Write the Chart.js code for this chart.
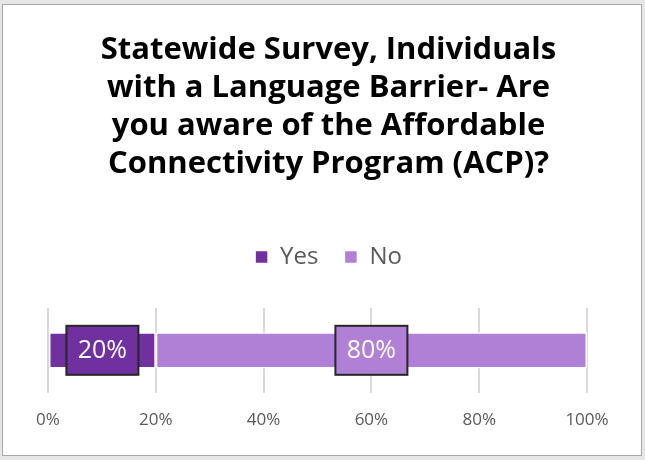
<!DOCTYPE html>
<html>
<head>
<meta charset="utf-8">
<script src="https://cdn.jsdelivr.net/npm/chart.js@4"></script>
<style>
  html, body { margin: 0; padding: 0; background: #e6e6e6; }
  #frame {
    position: absolute; left: 2px; top: 4px; width: 638px; height: 450px;
    background: #fff; border: 1px solid #a6a6a6;
  }
  #wrap { position: absolute; left: 0; top: 0; width: 638px; height: 450px; }
</style>
</head>
<body>
<div id="frame"><div id="wrap"><canvas id="chart"></canvas></div></div>
<script>
const categories = ["All"];
const seriesNames = ["Yes", "No"];
const yesValues = [20];
const noValues = [80];
const tickLabels = ["0%", "20%", "40%", "60%", "80%", "100%"];
const titleLines = [
  "Statewide Survey, Individuals",
  "with a Language Barrier- Are",
  "you aware of the Affordable",
  "Connectivity Program (ACP)?"
];

// draws boxed percentage labels in the middle of each bar segment
const boxLabels = {
  id: "boxLabels",
  afterDatasetsDraw(chart) {
    const ctx = chart.ctx;
    ctx.save();
    ctx.font = "25px 'Open Sans', sans-serif";
    ctx.textAlign = "center";
    ctx.textBaseline = "middle";
    chart.data.datasets.forEach((ds, di) => {
      const meta = chart.getDatasetMeta(di);
      meta.data.forEach((bar, i) => {
        const cx = (bar.x + bar.base) / 2;
        const cy = bar.y;
        const w = 72, h = 49;
        ctx.fillStyle = ds.labelFill;
        ctx.fillRect(cx - w / 2, cy - h / 2, w, h);
        ctx.lineWidth = 2;
        ctx.strokeStyle = "#262626";
        ctx.strokeRect(cx - w / 2, cy - h / 2, w, h);
        ctx.fillStyle = "#ffffff";
        ctx.fillText(ds.data[i] + "%", cx, cy + 1);
      });
    });
    ctx.restore();
  }
};

// extra space between legend and plot
const legendGap = {
  id: "legendGap",
  beforeInit(chart) {
    const fit = chart.legend.fit;
    chart.legend.fit = function () {
      fit.bind(chart.legend)();
      this.height += 29;
    };
  }
};

new Chart(document.getElementById("chart"), {
  type: "bar",
  data: {
    labels: categories,
    datasets: [
      {
        label: seriesNames[0],
        data: yesValues,
        backgroundColor: "#7030a0",
        labelFill: "#7030a0",
        borderColor: "#ffffff",
        borderWidth: 1.5,
        borderSkipped: false,
        barPercentage: 0.43,
        categoryPercentage: 1
      },
      {
        label: seriesNames[1],
        data: noValues,
        backgroundColor: "#b07fd6",
        labelFill: "#b07fd6",
        borderColor: "#ffffff",
        borderWidth: 1.5,
        borderSkipped: false,
        barPercentage: 0.43,
        categoryPercentage: 1
      }
    ]
  },
  options: {
    indexAxis: "y",
    responsive: true,
    maintainAspectRatio: false,
    animation: false,
    layout: { padding: { left: 45, right: 32, top: 26, bottom: 8 } },
    plugins: {
      title: {
        display: true,
        text: titleLines,
        color: "#000000",
        font: { family: "'Open Sans', sans-serif", size: 31, weight: "bold", lineHeight: 1.226 },
        padding: { top: 0, bottom: 36 }
      },
      legend: {
        display: true,
        labels: {
          color: "#595959",
          font: { family: "'Open Sans', sans-serif", size: 24 },
          boxWidth: 13,
          boxHeight: 13,
          padding: 26
        }
      },
      tooltip: { enabled: false }
    },
    scales: {
      x: {
        stacked: true,
        min: 0,
        max: 100,
        ticks: {
          stepSize: 20,
          color: "#595959",
          font: { family: "'Open Sans', sans-serif", size: 17 },
          padding: 17,
          callback: (v, i) => tickLabels[i]
        },
        grid: { color: "#d9d9d9", lineWidth: 2, drawTicks: false },
        border: { display: false }
      },
      y: {
        stacked: true,
        position: "right",
        afterFit: (scale) => { scale.width = 22; },
        ticks: { display: false },
        grid: { display: false },
        border: { display: false }
      }
    }
  },
  plugins: [boxLabels, legendGap]
});
</script>
</body>
</html>
